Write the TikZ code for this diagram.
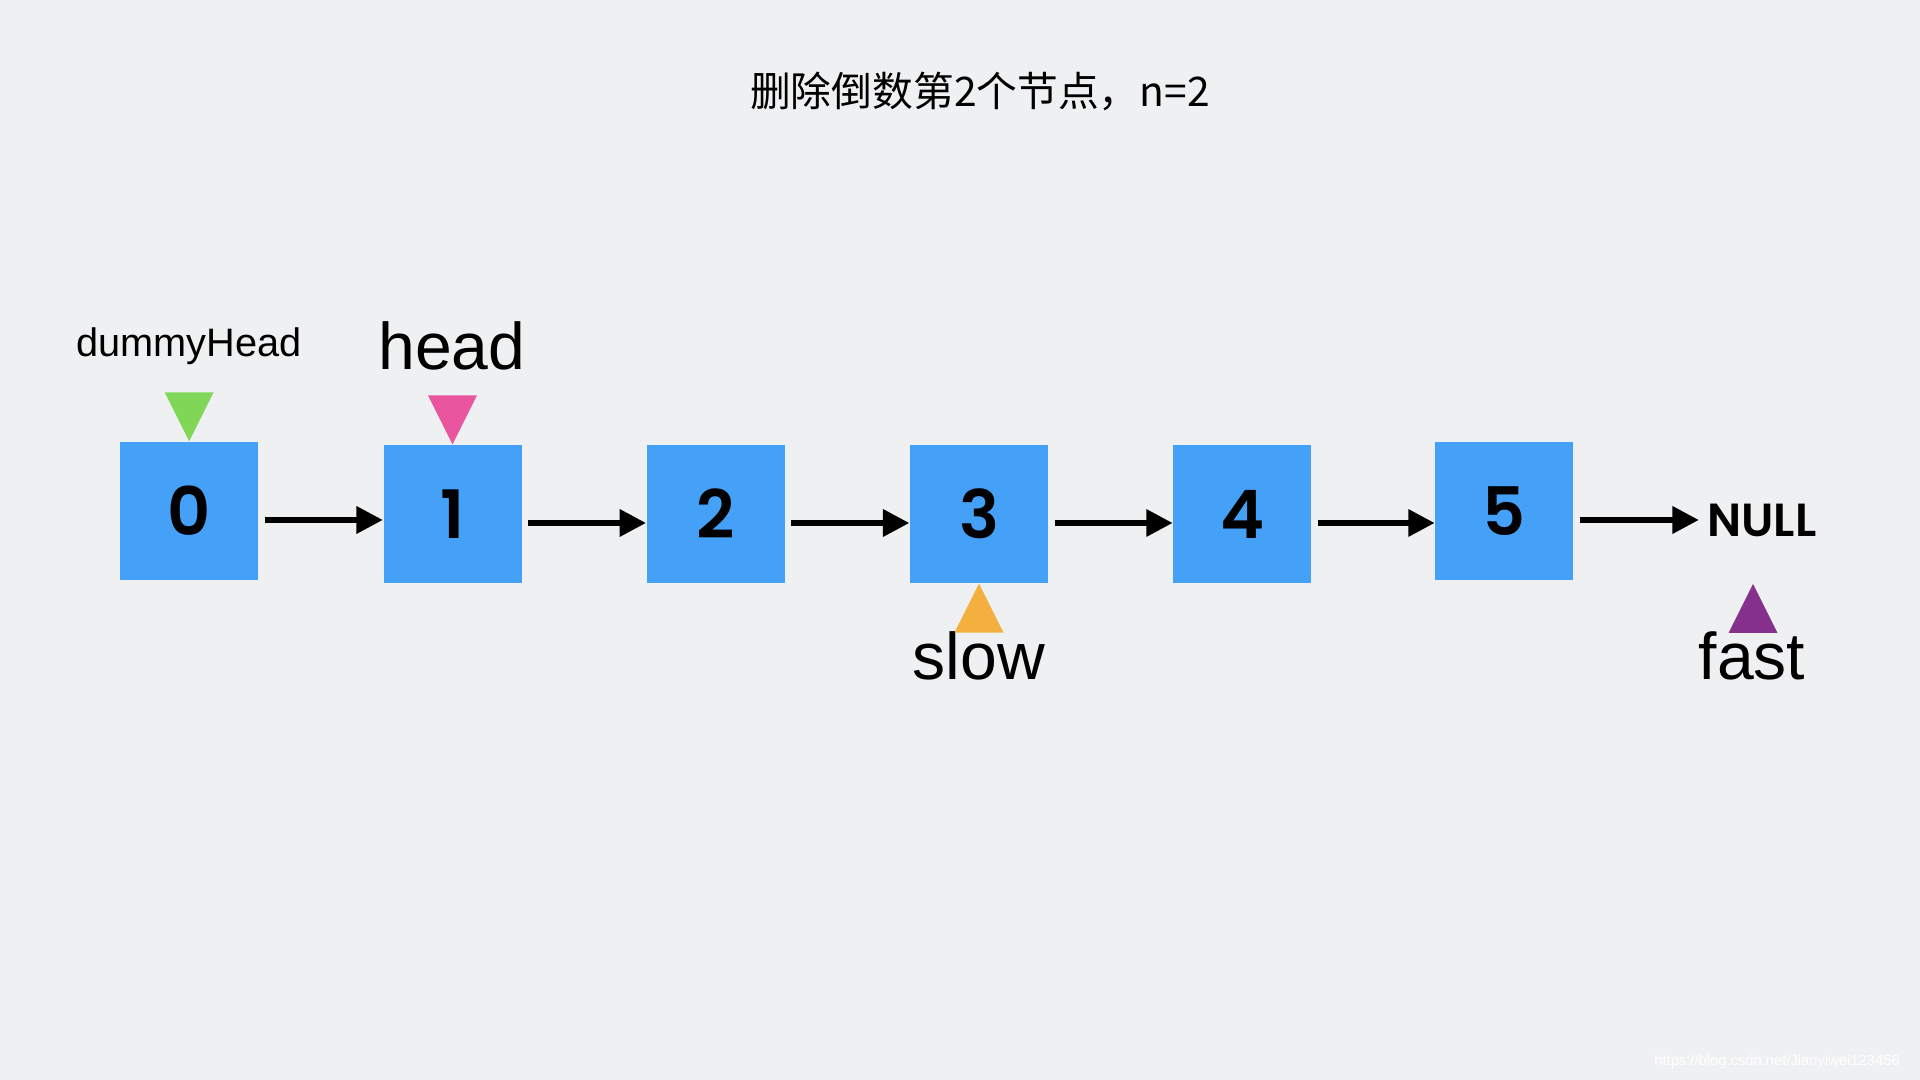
\documentclass[tikz,border=0pt]{standalone}
\usepackage{fontspec}
\setmainfont{Liberation Sans}
\newfontfamily\cjkfont{Noto Sans CJK SC}
\newfontfamily\numfont{Poppins SemiBold}
\usetikzlibrary{arrows.meta}
\definecolor{bgcol}{HTML}{EFF0F2}
\definecolor{boxblue}{HTML}{44A1F7}
\definecolor{ptrgreen}{HTML}{80D757}
\definecolor{ptrpink}{HTML}{E9569F}
\definecolor{ptrorange}{HTML}{F3B03E}
\definecolor{ptrpurple}{HTML}{86308D}
\tikzset{
	listnode/.style = {fill = boxblue, minimum size = 1.38cm, inner sep = 0pt, font = \numfont\fontsize{19}{19}\selectfont},
	nextarrow/.style = {-{Triangle[length = 7.5pt, width = 7.5pt]}, line width = 1.6pt, shorten < = 0.06cm},
	bigname/.style = {anchor = base, inner sep = 0pt, font = \fontsize{18.8}{19}\selectfont}
}
\begin{document}
\begin{tikzpicture}
	\fill[bgcol] (0,0) rectangle (19.2,10.8);
	\useasboundingbox (0,0) rectangle (19.2,10.8);
	\node (title) at (9.80,9.89) {\cjkfont\fontsize{11.6}{12}\selectfont 删除倒数第2个节点，n=2};
	% linked list
	\node[listnode] (n0) at ( 1.892,5.69) {0};
	\node[listnode] (n1) at ( 4.525,5.66) {1};
	\node[listnode] (n2) at ( 7.157,5.66) {2};
	\node[listnode] (n3) at ( 9.790,5.66) {3};
	\node[listnode] (n4) at (12.423,5.66) {4};
	\node[listnode] (n5) at (15.043,5.69) {5};
	\node[anchor = base, inner sep = 0pt, font = \numfont\fontsize{13.2}{14}\selectfont] (nul) at (17.62,5.43) {NULL};
	\draw[nextarrow] ([yshift = -0.09cm]n0.east) -- ([yshift = -0.09cm]n0.east -| n1.west);
	\draw[nextarrow] ([yshift = -0.09cm]n1.east) -- ([yshift = -0.09cm]n2.west);
	\draw[nextarrow] ([yshift = -0.09cm]n2.east) -- ([yshift = -0.09cm]n3.west);
	\draw[nextarrow] ([yshift = -0.09cm]n3.east) -- ([yshift = -0.09cm]n4.west);
	\draw[nextarrow] ([yshift = -0.09cm]n4.east) -- ([yshift = -0.09cm]n4.east -| n5.west);
	\draw[nextarrow] ([yshift = -0.09cm]n5.east) -- ([yshift = -0.09cm, xshift = -0.08cm]n5.east -| nul.west);
	% pointers
	\node[anchor = base, inner sep = 0pt, font = \fontsize{11.3}{12}\selectfont] (dummy) at (1.89,7.23) {dummyHead};
	\node[bigname] (head) at (4.52,7.10) {head};
	\node[bigname] (slow) at (9.79,4.00) {slow};
	\node[bigname] (fast) at (17.52,4.00) {fast};
	\fill[ptrgreen] (n0.north) -- ++(-0.245,0.49) -- ++(0.49,0) -- cycle;
	\fill[ptrpink] (n1.north) -- ++(-0.245,0.49) -- ++(0.49,0) -- cycle;
	\fill[ptrorange] (n3.south) -- ++(-0.245,-0.49) -- ++(0.49,0) -- cycle;
	\fill[ptrpurple] (17.53,4.96) -- ++(-0.245,-0.49) -- ++(0.49,0) -- cycle;
	\node[text = white, font = \fontsize{4.2}{5}\selectfont] (mark) at (17.77,0.18) {https://blog.csdn.net/Jianyiwei123456};
\end{tikzpicture}
\end{document}
